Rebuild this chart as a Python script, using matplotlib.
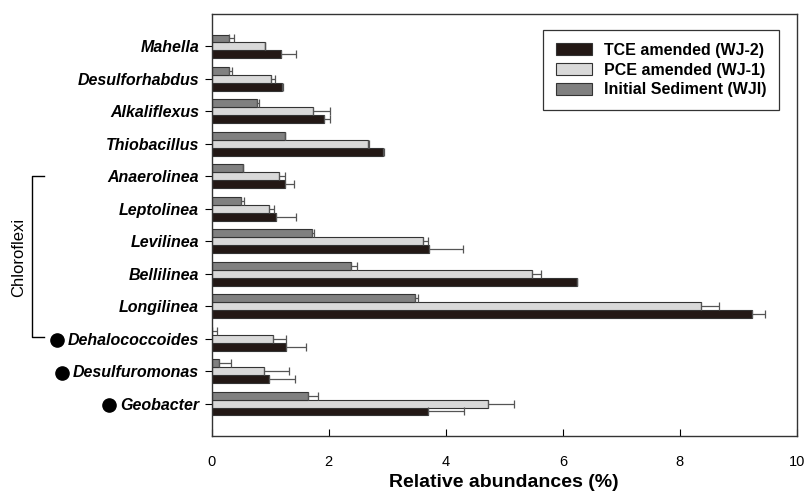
import matplotlib
matplotlib.use("Agg")
import matplotlib.pyplot as plt
import numpy as np

plt.rcParams['font.family'] = ['Liberation Sans', 'DejaVu Sans']

genera = ["Geobacter", "Desulfuromonas", "Dehalococcoides", "Longilinea", "Bellilinea",
          "Levilinea", "Leptolinea", "Anaerolinea", "Thiobacillus", "Alkaliflexus",
          "Desulforhabdus", "Mahella"]
bulleted = ["Geobacter", "Desulfuromonas", "Dehalococcoides"]

tce = [3.70, 0.99, 1.28, 9.23, 6.25, 3.71, 1.10, 1.25, 2.93, 1.92, 1.21, 1.19]
tce_err = [0.62, 0.43, 0.33, 0.23, 0.0, 0.59, 0.35, 0.15, 0.02, 0.10, 0.01, 0.26]
pce = [4.72, 0.89, 1.05, 8.36, 5.48, 3.61, 0.99, 1.16, 2.68, 1.74, 1.01, 0.92]
pce_err = [0.44, 0.43, 0.23, 0.31, 0.15, 0.08, 0.08, 0.10, 0.01, 0.29, 0.08, 0.0]
init = [1.64, 0.12, 0.01, 3.48, 2.39, 1.71, 0.51, 0.53, 1.26, 0.78, 0.29, 0.29]
init_err = [0.17, 0.21, 0.08, 0.04, 0.09, 0.04, 0.05, 0.0, 0.0, 0.03, 0.06, 0.10]

labels = ["TCE amended (WJ-2)", "PCE amended (WJ-1)", "Initial Sediment (WJI)"]
colors = ["#231815", "#d9d9d9", "#808080"]

fig = plt.figure(figsize=(8.08, 4.94), dpi=100)
ax = fig.add_axes([0.2618, 0.1174, 0.7246, 0.8543])

y = np.arange(len(genera))
h = 0.245
ekw = dict(ecolor="#555555", elinewidth=0.9, capsize=3, capthick=0.9)
series = [(tce, tce_err, -h), (pce, pce_err, 0.0), (init, init_err, h)]
for (vals, errs, off), lab, col in zip(series, labels, colors):
    ax.barh(y + off, vals, height=h, color=col, edgecolor="#333333", linewidth=0.8,
            xerr=[np.zeros(len(errs)), errs], error_kw=ekw, label=lab)

ax.set_xlim(0, 10)
ax.set_ylim(-1, len(genera))
ax.set_xticks([0, 2, 4, 6, 8, 10])
ax.set_yticks(y)
ax.set_yticklabels(genera, fontsize=11.5, fontweight="bold", fontstyle="italic")
ax.tick_params(axis="x", direction="in", length=5, labelsize=10.5, pad=14)
ax.tick_params(axis="y", direction="out", length=5, pad=4)
for s in ax.spines.values():
    s.set_linewidth(1.0)
    s.set_color("#333333")
ax.set_xlabel("Relative abundances (%)", fontsize=14, fontweight="bold", labelpad=3)

leg = ax.legend(loc="upper right", bbox_to_anchor=(0.969, 0.962), borderaxespad=0,
                frameon=True, fancybox=False, edgecolor="#333333", framealpha=1,
                prop=dict(size=11.5, weight="bold"), handlelength=2.25, handleheight=0.75,
                labelspacing=0.3, borderpad=0.8, handletextpad=0.75)
leg.get_frame().set_linewidth(0.9)

# Bullets before selected labels
fig.canvas.draw()
renderer = fig.canvas.get_renderer()
for lbl in ax.get_yticklabels():
    if lbl.get_text() in bulleted:
        bb = lbl.get_window_extent(renderer)
        cx = (bb.x0 - 11) / fig.bbox.width
        cy = (bb.y0 + bb.y1) / 2 / fig.bbox.height
        fig.add_artist(plt.Line2D([cx], [cy], marker="o", markersize=9.5,
                                  color="black", transform=fig.transFigure))

# Chloroflexi bracket
ya = ax.transData.transform((0, genera.index("Anaerolinea")))[1] / fig.bbox.height
yd = ax.transData.transform((0, genera.index("Dehalococcoides")))[1] / fig.bbox.height
x0 = 32 / 808
x1 = 44 / 808
fig.add_artist(plt.Line2D([x1, x0, x0, x1], [ya, ya, yd + 0.004, yd + 0.004],
                          color="black", linewidth=1.0, transform=fig.transFigure))
fig.text(19 / 808, (ya + yd) / 2, "Chloroflexi", rotation=90, ha="center", va="center",
         fontsize=12)

fig.savefig("out.png", dpi=100)
